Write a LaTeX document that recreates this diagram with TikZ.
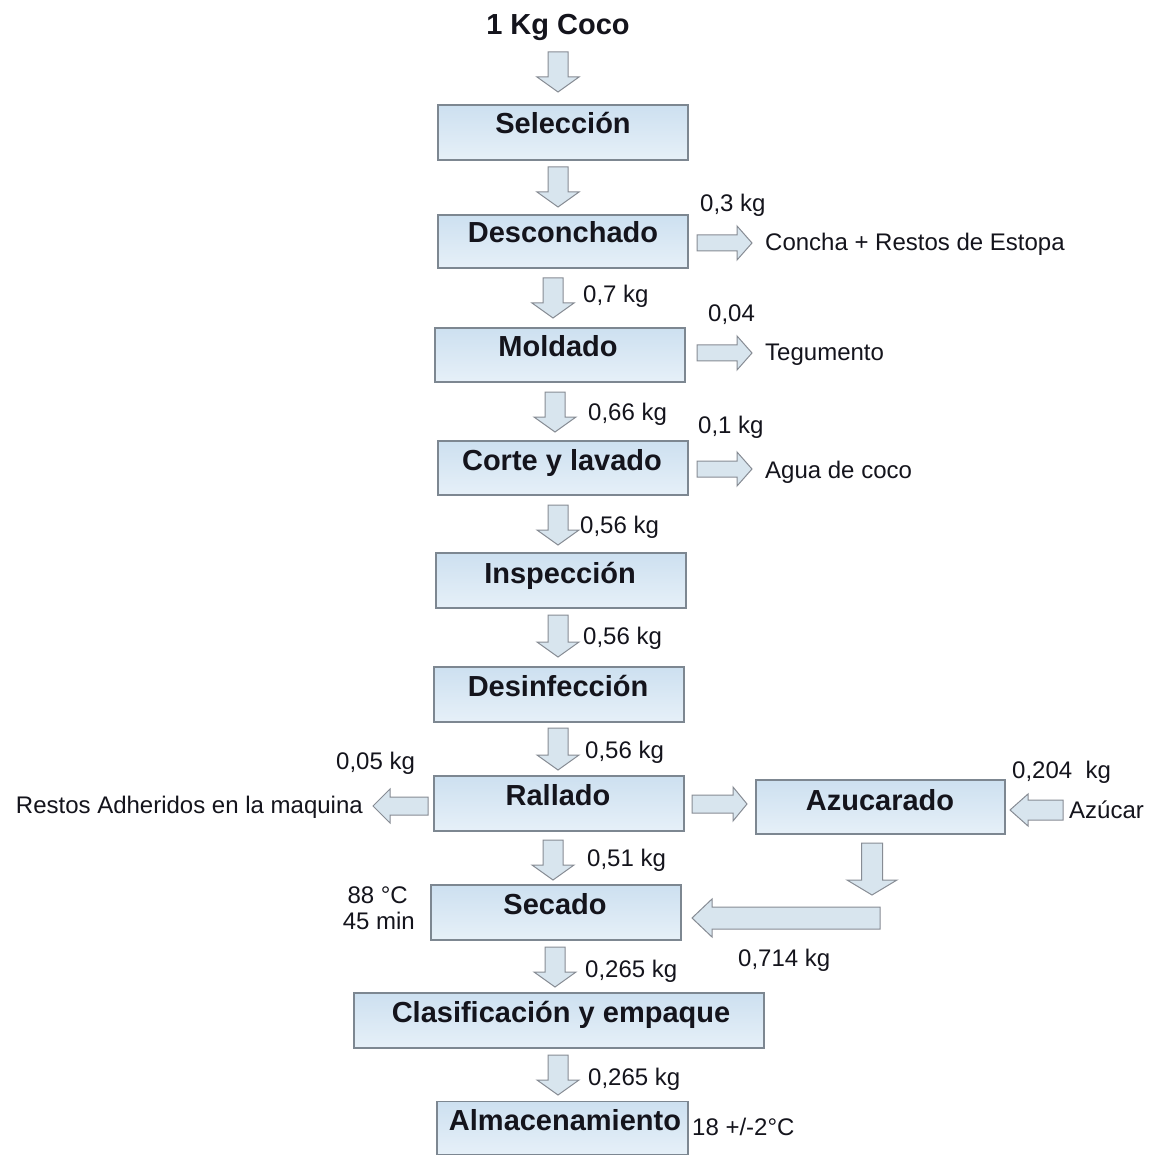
\documentclass[tikz,border=0pt]{standalone}
\usepackage{fontspec}
\setmainfont{Liberation Sans}
\definecolor{boxtop}{RGB}{205,224,240}
\definecolor{boxbot}{RGB}{230,240,248}
\definecolor{boxline}{RGB}{125,135,145}
\definecolor{arrfill}{RGB}{216,229,238}
\definecolor{arrline}{RGB}{135,140,148}
\definecolor{ink}{RGB}{20,20,28}
\newcommand\vbarrow[6]{% x, ytop, ytip, shaft half, head half, head length
  \draw[barrow] ({#1-#4},#2) -- ({#1+#4},#2) -- ({#1+#4},{#3-#6}) -- ({#1+#5},{#3-#6}) -- (#1,#3) -- ({#1-#5},{#3-#6}) -- ({#1-#4},{#3-#6}) -- cycle;}
\newcommand\hbarrow[6]{% xtail, xtip, y, shaft half, head half, signed head length
  \draw[barrow] (#1,{#3-#4}) -- ({#2-#6},{#3-#4}) -- ({#2-#6},{#3-#5}) -- (#2,#3) -- ({#2-#6},{#3+#5}) -- ({#2-#6},{#3+#4}) -- (#1,{#3+#4}) -- cycle;}
\begin{document}
\begin{tikzpicture}[x=1pt,y=-1pt,
  procbox/.style={draw=boxline, line width=1.1pt, top color=boxtop, bottom color=boxbot, minimum height=55pt, inner sep=0pt},
  proctext/.style={font=\fontsize{29}{31}\selectfont\bfseries, text=ink, anchor=base, inner sep=0pt},
  lab/.style={font=\fontsize{24}{26}\selectfont, text=ink, anchor=base west, inner sep=0pt},
  labr/.style={font=\fontsize{24}{26}\selectfont, text=ink, anchor=base east, inner sep=0pt},
  barrow/.style={draw=arrline, line width=1pt, fill=arrfill, line join=miter}]
\useasboundingbox[fill=white] (0,0) rectangle (1159,1155);

% title
\node[proctext] (title) at (558,35) {1 Kg Coco};

% process boxes
\node[procbox, minimum width=250pt, minimum height=55pt] (sel) at (563,132.5) {};
\node[proctext] (selt) at (563,134) {Selección};
\node[procbox, minimum width=250pt, minimum height=53pt] (des) at (563,241.5) {};
\node[proctext] (dest) at (563,243) {Desconchado};
\node[procbox, minimum width=250pt, minimum height=54pt] (mol) at (560,355) {};
\node[proctext] (molt) at (558,357) {Moldado};
\node[procbox, minimum width=250pt, minimum height=54pt] (cor) at (563,468) {};
\node[proctext] (cort) at (562,470) {Corte y lavado};
\node[procbox, minimum width=250pt, minimum height=55pt] (ins) at (561,580.5) {};
\node[proctext] (inst) at (560,583) {Inspección};
\node[procbox, minimum width=250pt, minimum height=55pt] (dsf) at (559,694.5) {};
\node[proctext] (dsft) at (558,696) {Desinfección};
\node[procbox, minimum width=250pt, minimum height=55pt] (ral) at (559,803.5) {};
\node[proctext] (ralt) at (558,805) {Rallado};
\node[procbox, minimum width=249pt, minimum height=54pt] (azu) at (880.5,807) {};
\node[proctext] (azut) at (880,810) {Azucarado};
\node[procbox, minimum width=250pt, minimum height=55pt] (sec) at (556,912.5) {};
\node[proctext] (sect) at (555,914) {Secado};
\node[procbox, minimum width=410pt, minimum height=55pt] (cla) at (559,1020.5) {};
\node[proctext] (clat) at (561,1022) {Clasificación y empaque};
\node[procbox, minimum width=251pt, minimum height=53pt] (alm) at (562.5,1128) {};
\node[proctext] (almt) at (565,1130) {Almacenamiento};

% vertical block arrows
\vbarrow{558}{52}{92}{10}{21}{15}
\vbarrow{558}{167}{207}{10}{21}{15}
\vbarrow{553}{278}{318}{10}{21}{15}
\vbarrow{555}{392}{432}{10}{21}{15}
\vbarrow{558}{505}{545}{10}{21}{15}
\vbarrow{558}{615}{657}{10}{21}{15}
\vbarrow{558}{728}{770}{10}{21}{15}
\vbarrow{553}{840}{880}{10}{21}{15}
\vbarrow{555}{947}{987}{10}{21}{15}
\vbarrow{558}{1055}{1095}{10}{21}{15}
\vbarrow{872}{843}{895}{10.5}{25}{15}

% horizontal block arrows
\hbarrow{697}{752}{243}{8}{17}{15}
\hbarrow{697}{752}{353}{8}{17}{15}
\hbarrow{697}{752}{469}{8}{17}{15}
\hbarrow{692}{747}{804}{9}{17}{14}
\hbarrow{1063}{1010}{810}{10}{16}{-18}
\hbarrow{880}{692}{918}{11}{19}{-20}
\hbarrow{428}{373}{806}{9}{17}{-17}

% labels
\node[lab] (l1) at (700,212) {0,3 kg};
\node[lab] (l2) at (765,251) {Concha + Restos de Estopa};
\node[lab] (l3) at (583,303) {0,7 kg};
\node[lab] (l4) at (708,322) {0,04};
\node[lab] (l5) at (765,361) {Tegumento};
\node[lab] (l6) at (588,420) {0,66 kg};
\node[lab] (l7) at (698,433) {0,1 kg};
\node[lab] (l8) at (765,478) {Agua de coco};
\node[lab] (l9) at (580,533) {0,56 kg};
\node[lab] (l10) at (583,644) {0,56 kg};
\node[lab] (l11) at (585,758) {0,56 kg};
\node[lab] (l12) at (336,769) {0,05 kg};
\node[labr] (l13) at (363,813) {Restos Adheridos en la maquina};
\node[lab] (l14) at (1012,778) {0,204\ \ kg};
\node[lab] (l15) at (1069,818) {Azúcar};
\node[lab] (l16) at (587,866) {0,51 kg};
\node[labr] (l17) at (408,903) {88 °C};
\node[labr] (l18) at (415,929) {45 min};
\node[lab] (l19) at (585,977) {0,265 kg};
\node[lab] (l20) at (738,966) {0,714 kg};
\node[lab] (l21) at (588,1085) {0,265 kg};
\node[lab] (l22) at (692,1135) {18 +/-2°C};
\end{tikzpicture}
\end{document}
